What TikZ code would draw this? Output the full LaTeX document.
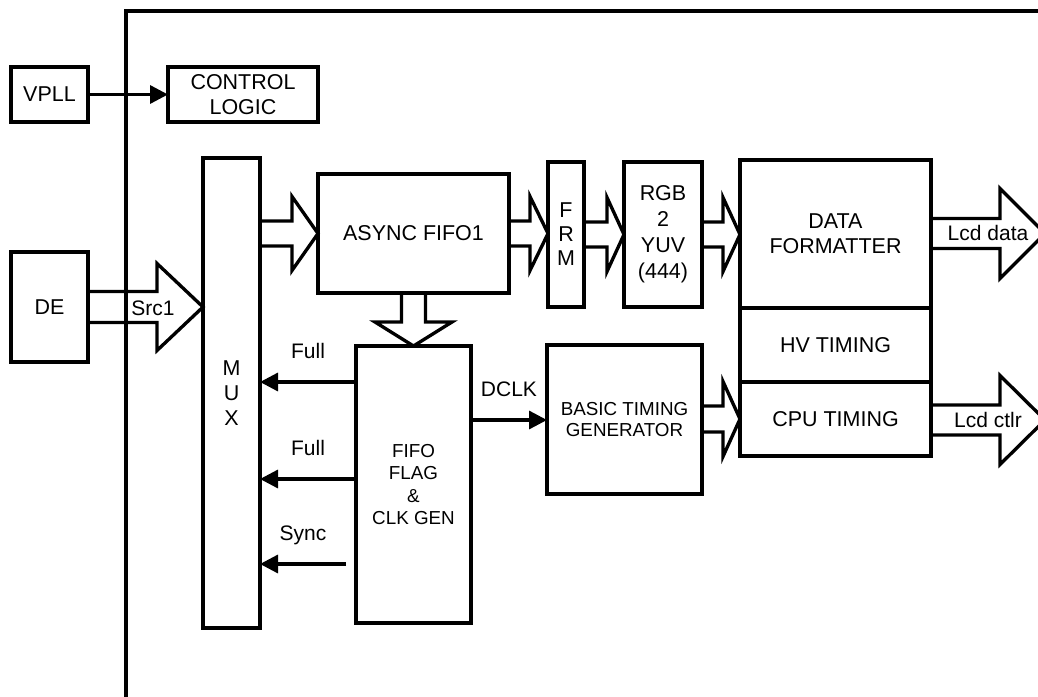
\documentclass[tikz,border=0pt]{standalone}
\usepackage{fontspec}
\setmainfont{Liberation Sans}
\usetikzlibrary{arrows.meta,calc}
\newcommand\harrow[5]{%
 \draw[blk] let \p1=(#1), \p2=(#2) in
 (\x1,\y2+#3*0.75pt) -- (\x2-#5*0.75pt,\y2+#3*0.75pt) -- (\x2-#5*0.75pt,\y2+#4*0.75pt) -- (\x2,\y2)
 -- (\x2-#5*0.75pt,\y2-#4*0.75pt) -- (\x2-#5*0.75pt,\y2-#3*0.75pt) -- (\x1,\y2-#3*0.75pt);}
\newcommand\varrow[5]{%
 \draw[blk] let \p1=(#1), \p2=(#2) in
 (\x2-#3*0.75pt,\y1) -- (\x2-#3*0.75pt,\y2+#5*0.75pt) -- (\x2-#4*0.75pt,\y2+#5*0.75pt) -- (\x2,\y2)
 -- (\x2+#4*0.75pt,\y2+#5*0.75pt) -- (\x2+#3*0.75pt,\y2+#5*0.75pt) -- (\x2+#3*0.75pt,\y1);}
\begin{document}
\begin{tikzpicture}[x=0.75pt,y=-0.75pt,
 box/.style={draw, line width=2.5pt, inner sep=0pt, outer sep=0pt, align=center,
   font=\fontsize{16.1pt}{18.75pt}\selectfont},
 smallbox/.style={box, font=\fontsize{14.1pt}{16.9pt}\selectfont},
 wh/.style 2 args={minimum width=#1*0.75pt, minimum height=#2*0.75pt},
 sig/.style={line width=2.5pt, -{Triangle[length=13.5pt,width=13.5pt]}},
 blk/.style={line width=2.5pt, line join=miter},
 lbl/.style={font=\fontsize{15.75pt}{18pt}\selectfont, inner sep=0pt},
]
\path[use as bounding box, clip] (0,0) rectangle (1038,696);

% outer frame
\draw[line width=2.5pt] (126,710) -- (126,11) -- (1050,11);

% blocks
\node[box, wh={77}{55}] (vpll) at (49.5,94.5) {VPLL};
\node[box, wh={150}{55}] (ctrl) at (243,94.5) {CONTROL\\LOGIC};
\node[box, wh={77}{110}] (de) at (49.5,307) {DE};
\node[box, wh={57}{470}] (mux) at (231.5,393) {M\\U\\X};
\node[box, wh={191}{119}] (asy) at (413.5,233.5) {ASYNC FIFO1};
\node[box, wh={36}{145}, font=\fontsize{16.1pt}{18pt}\selectfont] (frm) at (566,234.5) {F\\R\\M};
\node[box, wh={78}{145}, font=\fontsize{16.1pt}{19.5pt}\selectfont] (rgb) at (663,234.5) {RGB\\2\\YUV\\(444)};
\node[box, wh={191}{148}] (data) at (835.5,234) {DATA\\FORMATTER};
\node[box, wh={191}{74}] (hv) at (835.5,345) {HV TIMING};
\node[box, wh={191}{74}] (cpu) at (835.5,419) {CPU TIMING};
\node[smallbox, wh={115}{277}] (fifo) at (413.5,484.5) {FIFO\\FLAG\\\&\\CLK GEN};
\node[smallbox, wh={155}{149}, font=\fontsize{14.1pt}{15.75pt}\selectfont] (btg) at (624.5,419.5) {BASIC TIMING\\GENERATOR};

% block arrows
\harrow{de.east}{de.east -| mux.west}{15.5}{43.5}{46}
\node[lbl] (src) at (153,308) {Src1};
\harrow{mux.east |- asy.west}{asy.west}{12.5}{37}{26}
\harrow{asy.east}{asy.east -| frm.west}{12.5}{37}{18}
\harrow{frm.east}{frm.east -| rgb.west}{12.5}{37}{17}
\harrow{rgb.east}{rgb.east -| data.west}{12.5}{37}{17}
\harrow{btg.east |- cpu.west}{cpu.west}{13}{37.5}{17}
\coordinate (lcdd) at (1045,233.5);
\coordinate (lcdc) at (1045,420);
\harrow{data.east |- lcdd}{lcdd}{15}{45}{45}
\harrow{cpu.east |- lcdc}{lcdc}{15}{44.5}{45}
\node[lbl] (lcddl) at (988,233) {Lcd data};
\node[lbl] (lcdcl) at (988,420) {Lcd ctlr};
\varrow{asy.south}{fifo.north}{12}{38.5}{24}

% signal arrows
\draw[sig] (vpll.east) -- (ctrl.west);
\coordinate (full1) at ($(fifo.north west)+(0,36)$);
\coordinate (full2) at ($(fifo.north west)+(0,133)$);
\coordinate (sy) at ($(fifo.south west)+(-10,-59)$);
\coordinate (dc) at ($(fifo.north east)+(0,74)$);
\draw[sig] (full1) -- node[lbl, anchor=base, yshift=17.6pt] {Full} (full1 -| mux.east);
\draw[sig] (full2) -- node[lbl, anchor=base, yshift=17.6pt] {Full} (full2 -| mux.east);
\draw[sig] (sy) -- node[lbl, anchor=base, yshift=17.6pt] {Sync} (sy -| mux.east);
\draw[sig] (dc) -- node[lbl, anchor=base, yshift=17.6pt] {DCLK} (dc -| btg.west);
\end{tikzpicture}
\end{document}
